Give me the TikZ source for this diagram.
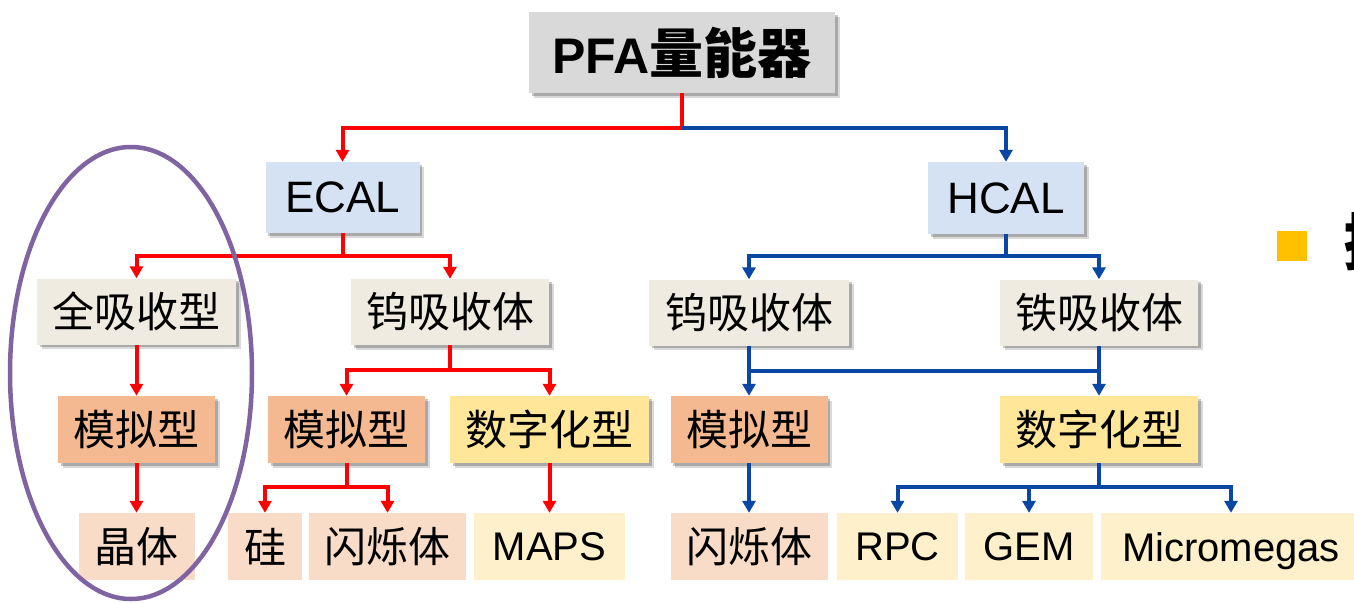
\documentclass[tikz,border=0pt]{standalone}
\usepackage{fontspec}
\setmainfont{Liberation Sans}
\newfontfamily\cjk{Noto Sans CJK SC}
\usetikzlibrary{arrows.meta,shadows}
\definecolor{cGray}{HTML}{D9D9D9}
\definecolor{cBlue}{HTML}{D5E2F4}
\definecolor{cTan}{HTML}{EFEBE1}
\definecolor{cOrg}{HTML}{F4B990}
\definecolor{cGold}{HTML}{FFE699}
\definecolor{cPeach}{HTML}{F9DCC8}
\definecolor{cCream}{HTML}{FFF0CC}
\definecolor{lRed}{HTML}{FF0000}
\definecolor{lBlue}{HTML}{0A47A5}
\definecolor{cPurple}{HTML}{8064A2}
\definecolor{cBullet}{HTML}{FFC000}
\begin{document}
\begin{tikzpicture}[x=1pt,y=-1pt,
  box/.style={inner sep=0pt, text=black, font=\cjk\fontsize{42}{42}\selectfont},
  lat/.style={inner sep=0pt, text=black, text depth=0pt, font=\fontsize{40}{40}\selectfont},
  sh/.style={drop shadow={shadow xshift=4.5pt,shadow yshift=-4.5pt,opacity=0.15,fill=black},
             drop shadow={shadow xshift=2.5pt,shadow yshift=-2.5pt,opacity=0.22,fill=black}},
  r1/.style={minimum height=66pt},
  r3/.style={minimum height=67pt},
  r4/.style={minimum height=67pt},
  rline/.style={draw=lRed, line width=4pt},
  bline/.style={draw=lBlue, line width=4pt},
  rarr/.style={rline, -{Triangle[width=13pt,length=12pt]}},
  barr/.style={bline, -{Triangle[width=13pt,length=12pt]}}
]
\clip (0,0) rectangle (1354,603);
\fill[white] (0,0) rectangle (1354,603);

% top
\node[sh, fill=cGray, inner sep=0pt, minimum width=306pt, minimum height=81pt] (pfa) at (682,52.5)
  {\bfseries\fontsize{50}{50}\selectfont PFA{\cjk\fontsize{54}{54}\selectfont 量能器}};

% level 1
\node[lat, sh, fill=cBlue, minimum width=154pt, minimum height=71pt, font=\fontsize{44}{44}\selectfont] (ecal) at (342.5,197.5) {ECAL};
\node[lat, sh, fill=cBlue, minimum width=156pt, minimum height=72pt, font=\fontsize{44}{44}\selectfont] (hcal) at (1006,198) {HCAL};

% level 2
\node[box, sh, r1, fill=cTan, minimum width=199pt] (qxs) at (136.5,311.5) {全吸收型};
\node[box, sh, r1, fill=cTan, minimum width=198pt] (ewu) at (450,312) {钨吸收体};
\node[box, sh, r1, fill=cTan, minimum width=200pt] (hwu) at (749,312.5) {钨吸收体};
\node[box, sh, r1, fill=cTan, minimum width=198pt] (hfe) at (1099,312.5) {铁吸收体};

% level 3
\node[box, sh, r3, fill=cOrg, minimum width=157pt] (amn1) at (136.5,429.5) {模拟型};
\node[box, sh, r3, fill=cOrg, minimum width=157pt] (amn2) at (346.5,429.5) {模拟型};
\node[box, sh, r3, fill=cGold, minimum width=199pt] (dig1) at (549.5,429.5) {数字化型};
\node[box, sh, r3, fill=cOrg, minimum width=157pt] (amn3) at (749,429.5) {模拟型};
\node[box, sh, r3, fill=cGold, minimum width=198pt] (dig2) at (1099,429.5) {数字化型};

% level 4
\node[box, r4, fill=cPeach, minimum width=116pt] (jt) at (136.5,546.5) {晶体};
\node[box, r4, fill=cPeach, minimum width=74pt] (gui) at (265,546.5) {硅};
\node[box, r4, fill=cPeach, minimum width=157pt] (sc1) at (387.5,546.5) {闪烁体};
\node[lat, r4, fill=cCream, minimum width=151pt] (maps) at (549.5,546.5) {MAPS};
\node[box, r4, fill=cPeach, minimum width=157pt] (sc2) at (749,546.5) {闪烁体};
\node[lat, r4, fill=cCream, minimum width=121pt] (rpc) at (897.5,546.5) {RPC};
\node[lat, r4, fill=cCream, minimum width=128pt] (gem) at (1029,546.5) {GEM};
\node[lat, r4, fill=cCream, minimum width=260pt] (micro) at (1231,546.5) {Micromegas};

% junctions
\coordinate (j1) at (682,127.5);
\coordinate (j2) at (342.5,255.5);
\coordinate (j3) at (450,370);
\coordinate (j4) at (346.5,487);
\coordinate (j5) at (1006,255.5);
\coordinate (j6) at (749,370.5);
\coordinate (j6b) at (1099,370.5);
\coordinate (j7) at (1099,487);

% connectors
\draw[rline] (pfa.south) -- (j1);
\draw[rarr] (j1) -| (ecal.north);
\draw[barr] (j1) -| (hcal.north);

\draw[rline] (ecal.south) -- (j2);
\draw[rarr] (j2) -| (qxs.north);
\draw[rarr] (j2) -| (ewu.north);

\draw[rarr] (qxs.south) -- (amn1.north);
\draw[rarr] (amn1.south) -- (jt.north);

\draw[rline] (ewu.south) -- (j3);
\draw[rarr] (j3) -| (amn2.north);
\draw[rarr] (j3) -| (dig1.north);

\draw[rline] (amn2.south) -- (j4);
\draw[rarr] (j4) -| (gui.north);
\draw[rarr] (j4) -| (sc1.north);

\draw[rarr] (dig1.south) -- (maps.north);

\draw[bline] (hcal.south) -- (j5);
\draw[barr] (j5) -| (hwu.north);
\draw[barr] (j5) -| (hfe.north);

\draw[barr] (hwu.south) -- (amn3.north);
\draw[barr] (hfe.south) -- (dig2.north);
\draw[bline, line cap=rect] (j6) -- (j6b);

\draw[barr] (amn3.south) -- (sc2.north);

\draw[bline] (dig2.south) -- (j7);
\draw[barr] (j7) -| (rpc.north);
\draw[barr] (j7) -| (gem.north);
\draw[barr] (j7) -| (micro.north);

% bullet and cut-off text at right edge
\fill[cBullet] (1277,231) rectangle (1307,261);
\node[inner sep=0pt, anchor=west, font=\cjk\bfseries\fontsize{62}{62}\selectfont] (cut) at (1343,242) {探};

% purple ellipse
\draw[cPurple, line width=4.5pt] (131,373) ellipse [x radius=121, y radius=226];
\end{tikzpicture}
\end{document}
